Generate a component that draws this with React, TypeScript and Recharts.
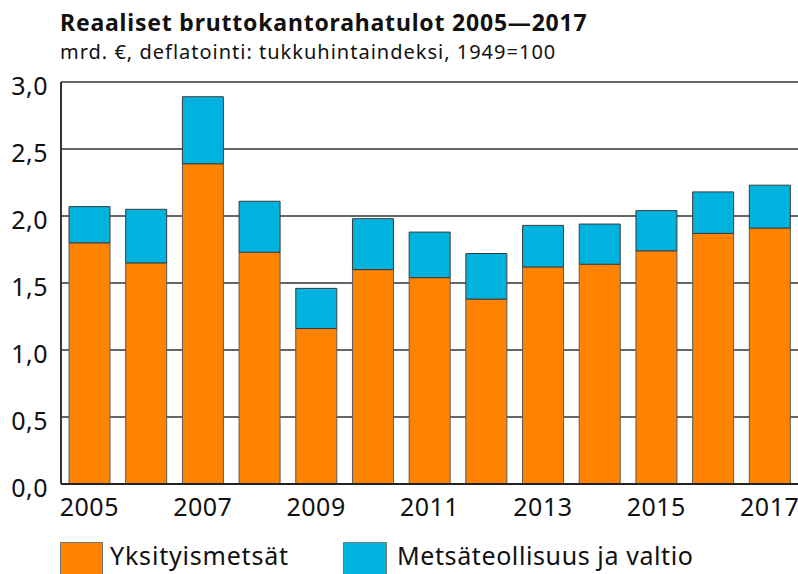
import React from 'react';
import { BarChart, Bar, XAxis, YAxis, CartesianGrid } from 'recharts';

const years = ['2005','2006','2007','2008','2009','2010','2011','2012','2013','2014','2015','2016','2017'];
const privateForests = [1.80, 1.65, 2.39, 1.73, 1.16, 1.60, 1.54, 1.38, 1.62, 1.64, 1.74, 1.87, 1.91];
const industryState = [0.27, 0.40, 0.50, 0.38, 0.30, 0.38, 0.34, 0.34, 0.31, 0.30, 0.30, 0.31, 0.32];
const yTicks = [0, 0.5, 1.0, 1.5, 2.0, 2.5, 3.0];

const seriesNames = ['Yksityismetsät', 'Metsäteollisuus ja valtio'];
const ORANGE = '#FF8300';
const BLUE = '#00B2DE';
const FONT = '"Noto Sans", "DejaVu Sans", sans-serif';

const data = years.map((y, i) => ({ year: y, a: privateForests[i], b: industryState[i] }));

const fmt = (v: number) => v.toFixed(1).replace('.', ',');

const YTick = (props: any) => {
  const { x, y, payload } = props;
  return (
    <text x={x} y={y + 13} textAnchor="end" fontSize={25} fill="#111" fontFamily={FONT} letterSpacing={0.5}>
      {fmt(Number(payload.value))}
    </text>
  );
};

const XTick = (props: any) => {
  const { x, y, payload } = props;
  return (
    <text x={x} y={y + 32} textAnchor="middle" fontSize={25} fill="#111" fontFamily={FONT} letterSpacing={0.5}>
      {payload.value}
    </text>
  );
};

export default function App() {
  return (
    <div style={{ position: 'absolute', left: 0, top: 0, width: 798, height: 574, background: '#fff', fontFamily: FONT, overflow: 'hidden' }}>
      <div style={{ position: 'absolute', left: 60, top: 6, fontSize: 23, fontWeight: 700, color: '#111', whiteSpace: 'nowrap', lineHeight: '32px', letterSpacing: 0.8 }}>
        Reaaliset bruttokantorahatulot 2005—2017
      </div>
      <div style={{ position: 'absolute', left: 60, top: 37, fontSize: 20, color: '#111', whiteSpace: 'nowrap', lineHeight: '30px', letterSpacing: 1 }}>
        mrd. €, deflatointi: tukkuhintaindeksi, 1949=100
      </div>
      <div style={{ position: 'absolute', left: 0, top: 0 }}>
        <BarChart width={798} height={574} data={data} margin={{ top: 82, right: 0, bottom: 0, left: 0 }}>
          <CartesianGrid vertical={false} stroke="#333" strokeWidth={1.5} />
          <XAxis
            dataKey="year"
            height={90}
            interval={1}
            tickLine={false}
            tickSize={0}
            tickMargin={0}
            axisLine={{ stroke: '#222', strokeWidth: 2 }}
            tick={<XTick />}
          />
          <YAxis
            width={61}
            domain={[0, 3]}
            ticks={yTicks}
            tickLine={false}
            tickSize={0}
            tickMargin={13}
            axisLine={{ stroke: '#333', strokeWidth: 2 }}
            tick={<YTick />}
          />
          <Bar dataKey="a" name={seriesNames[0]} stackId="s" fill={ORANGE} stroke="#5a5a5a" strokeWidth={1} barSize={41} isAnimationActive={false} />
          <Bar dataKey="b" name={seriesNames[1]} stackId="s" fill={BLUE} stroke="#3a3a3a" strokeWidth={1} barSize={41} isAnimationActive={false} />
        </BarChart>
      </div>
      <div style={{ position: 'absolute', left: 60, top: 542, width: 43, height: 34, background: ORANGE, boxShadow: 'inset 0 0 0 1px #777' }} />
      <div style={{ position: 'absolute', left: 110, top: 537, fontSize: 25, color: '#111', whiteSpace: 'nowrap', lineHeight: '36px', letterSpacing: 0.8 }}>
        {seriesNames[0]}
      </div>
      <div style={{ position: 'absolute', left: 343, top: 542, width: 44, height: 34, background: BLUE, boxShadow: 'inset 0 0 0 1px #777' }} />
      <div style={{ position: 'absolute', left: 397, top: 537, fontSize: 25, color: '#111', whiteSpace: 'nowrap', lineHeight: '36px', letterSpacing: 0.6 }}>
        {seriesNames[1]}
      </div>
    </div>
  );
}
